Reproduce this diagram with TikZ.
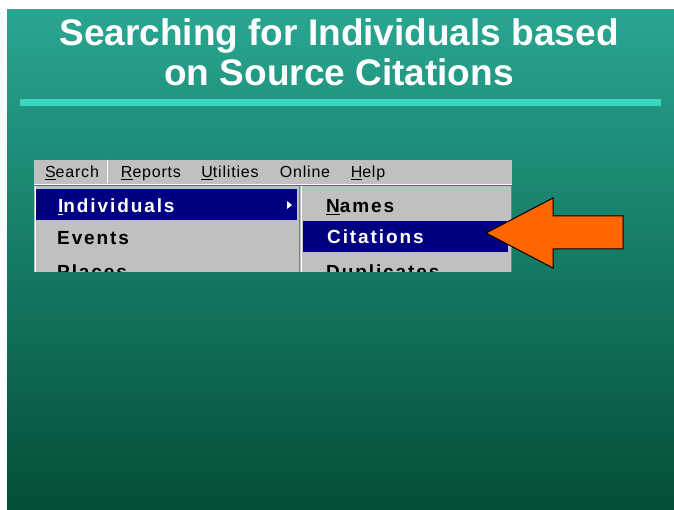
\documentclass[tikz,border=0pt]{standalone}
\usepackage{fontspec}
\setmainfont{Liberation Sans}
\newfontfamily\menufont[LetterSpace=10]{Liberation Sans}
\newfontfamily\barfont[LetterSpace=5]{Liberation Sans}
\usetikzlibrary{shadings}
\definecolor{slidetop}{HTML}{29A690}
\definecolor{slidebot}{HTML}{034E39}
\definecolor{rulecyan}{HTML}{3AD6C0}
\definecolor{wingray}{HTML}{C0C0C0}
\definecolor{winnavy}{HTML}{000080}
\definecolor{winshadow}{HTML}{808080}
\definecolor{pointer}{HTML}{FF6600}
\tikzset{
  titletext/.style={text=white, font=\fontsize{37}{40}\selectfont\bfseries, align=center},
  bartext/.style={anchor=base, font=\fontsize{16}{18}\selectfont\barfont, text=black, inner sep=0pt},
  itemtext/.style={anchor=base west, font=\fontsize{19}{22}\selectfont\menufont\bfseries, inner sep=0pt},
  panel/.style={fill=wingray},
  hilite/.style={fill=winnavy},
}
\begin{document}
\begin{tikzpicture}[x=1pt,y=-1pt]
  \useasboundingbox (0,0) rectangle (674,510);
  \fill[white] (0,0) rectangle (674,510);
  % slide background
  \shade[top color=slidetop, bottom color=slidebot] (7,10) rectangle (674,510);
  % title
  \node[titletext] (title) at (339,52) {Searching for Individuals based\\on Source Citations};
  \fill[rulecyan] (20,99) rectangle (661,106);

  % menu bar
  \fill[panel] (34,160) rectangle (512,185);
  \draw[white, line width=1.5pt] (34,184.5) -- (512,184.5);
  \draw[white, line width=1pt] (107,160) -- (107,183);
  \node[bartext] (msearch) at (72,178) {\underline{S}earch};
  \node[bartext] (mreports) at (151,178) {\underline{R}eports};
  \node[bartext] (mutil) at (230,178) {\underline{U}tilities};
  \node[bartext] (monline) at (305,178) {Online};
  \node[bartext] (mhelp) at (368,178) {\underline{H}elp};

  % drop-down and sub-menu panels
  \fill[panel] (34,186) rectangle (512,272);
  \draw[white, line width=1pt] (35,186) -- (35,272);
  \draw[winshadow, line width=1pt] (299,186) -- (299,272);
  \draw[white, line width=1pt] (301,186) -- (301,272);
  \draw[winshadow, line width=1pt] (511,186) -- (511,272);
  \fill[hilite] (36,189) rectangle (297,220);
  \fill[hilite] (303,221) rectangle (508,252);
  \fill[white] (287,201) -- (292,205) -- (287,209) -- cycle;

  \begin{scope}
    \clip (34,186) rectangle (512,272);
    \node[itemtext, text=white] (individuals) at (58,213) {\underline{I}ndividuals};
    \node[itemtext, text=black] (events) at (57,245) {Events};
    \node[itemtext, text=black] (places) at (57,279) {Places};
    \node[itemtext, text=black] (names) at (326,213) {\underline{N}ames};
    \node[itemtext, text=white] (citations) at (327,244) {Citations};
    \node[itemtext, text=black] (duplicates) at (326,279) {Duplicates};
  \end{scope}

  % pointing arrow
  \filldraw[fill=pointer, draw=black, line width=1pt, line join=miter]
    (486,233) -- (553,198) -- (553,216) -- (623,216) -- (623,249)
    -- (553,249) -- (553,268) -- cycle;
\end{tikzpicture}
\end{document}
